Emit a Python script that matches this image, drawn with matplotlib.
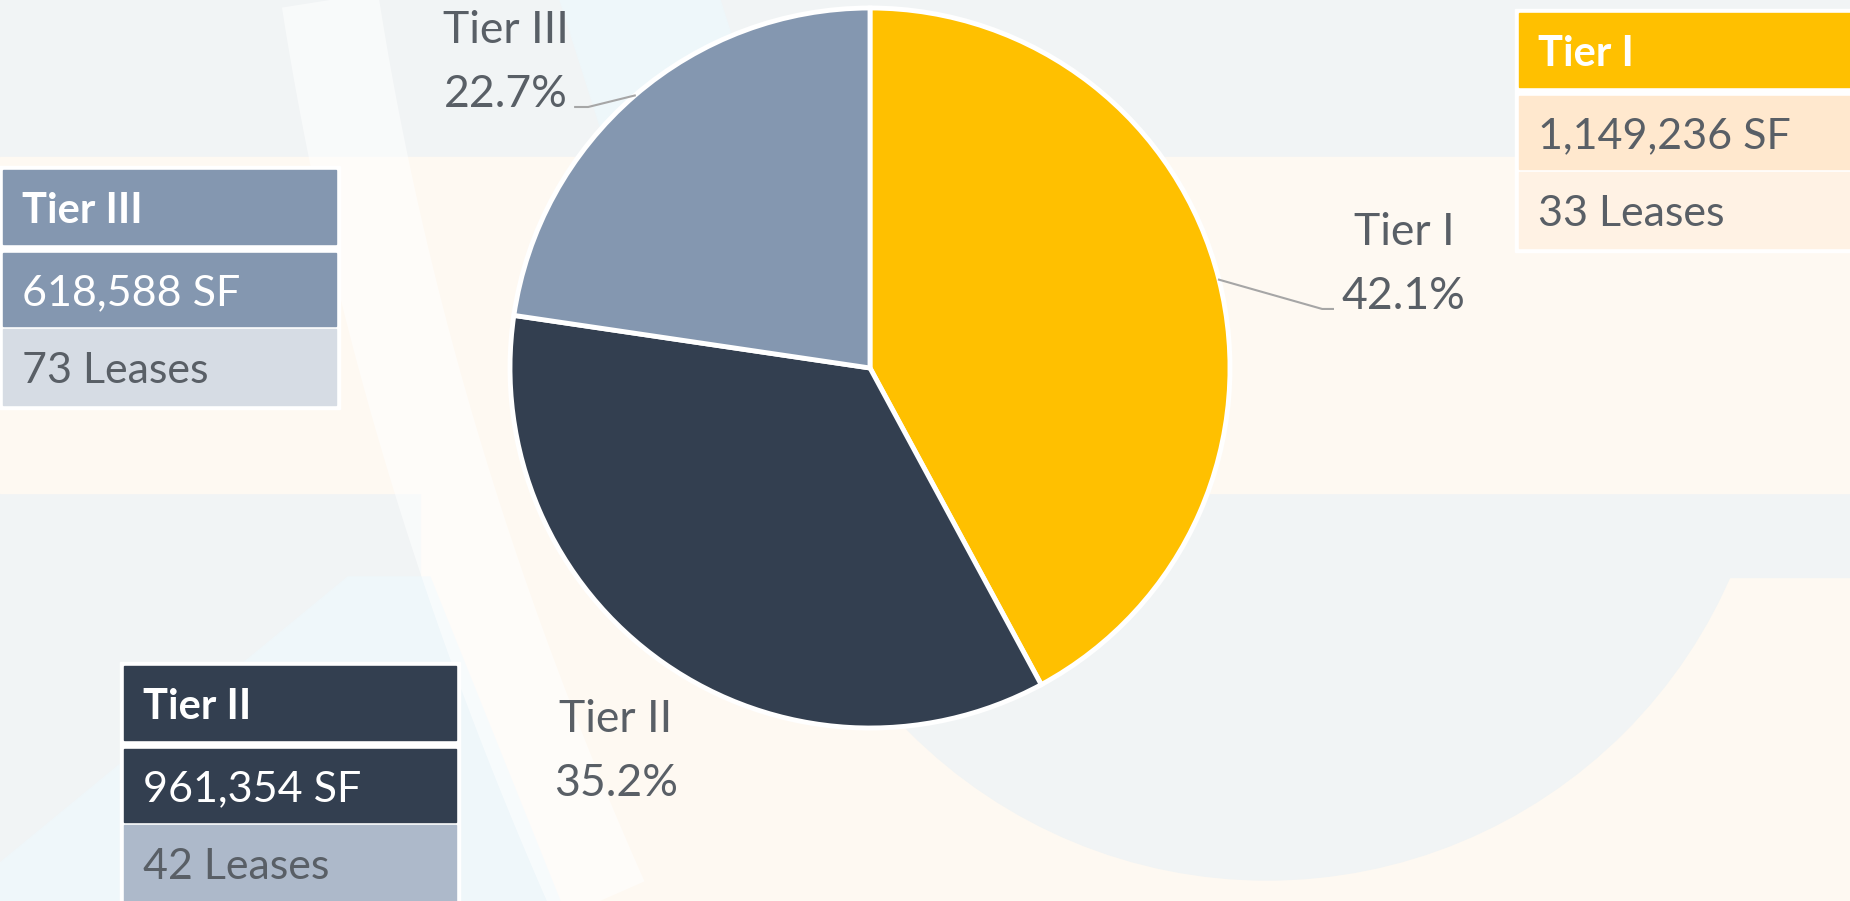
import numpy as np
import matplotlib.pyplot as plt
from matplotlib.patches import Rectangle, Circle, Polygon

plt.rcParams['font.family'] = ['Lato', 'DejaVu Sans']

# data
tiers = ["Tier I", "Tier II", "Tier III"]
square_feet = [1149236, 961354, 618588]
leases = [33, 42, 73]
pie_colors = ["#FFC000", "#333F50", "#8497B0"]

# summary box colours: header, SF row, leases row
box_fill = {
    "Tier I": ["#FFC000", "#FFE8CE", "#FFF2E4"],
    "Tier II": ["#333F50", "#333F50", "#ADB9CA"],
    "Tier III": ["#8497B0", "#8497B0", "#D6DCE4"],
}
box_text = {
    "Tier I": ["white", "#595F66", "#595F66"],
    "Tier II": ["white", "white", "#595F66"],
    "Tier III": ["white", "white", "#595F66"],
}
# box top-left corner and width, in pixels
box_place = {"Tier I": (1519, 13, 345), "Tier II": (124, 666, 332), "Tier III": (3, 170, 333)}

# label anchors (percent line baseline, pie radius units) and leader elbows
label_xy = {"Tier I": (1.483, 0.164), "Tier II": (-0.706, -1.189), "Tier III": (-1.011, 0.725)}
leader_elbow = {"Tier I": [(1.256, 0.164), (1.286, 0.164)],
                "Tier III": [(-0.783, 0.725), (-0.819, 0.725)]}

GRAY = "#595F66"
W, H = 1850, 901

fig = plt.figure(figsize=(18.5, 9.01), dpi=100)

# ---- background decoration (pixel coords) ----
bg = fig.add_axes([0, 0, 1, 1])
bg.set_xlim(0, W)
bg.set_ylim(H, 0)
bg.axis("off")
bg.add_patch(Rectangle((0, 0), W, H, color="#FEF9F2", zorder=0))
bg.add_patch(Rectangle((0, 0), W, 157, color="#F1F4F5", zorder=1))
bg.add_patch(Polygon([(560, 0), (720, 0), (770, 157), (610, 157)], color="#EEF7FA", zorder=1))
bg.add_patch(Rectangle((0, 493), 420, H - 493, color="#F1F4F5", zorder=1))
bg.add_patch(Polygon([(348, 577), (430, 577), (560, 901), (0, 901), (0, 863)], color="#EFF7FA", zorder=1))
bg.add_patch(Rectangle((1208, 493), W - 1208, 84, color="#F1F4F5", zorder=1))
bg.add_patch(Circle((1267, 375), 505, color="#F1F4F5", zorder=1))
bg.add_patch(Rectangle((0, 157), W, 336, color="#FEF9F2", zorder=2))
t = np.linspace(0, 1, 60)
arc_x = (1 - t) ** 2 * 330 + 2 * (1 - t) * t * 400 + t ** 2 * 600
arc_y = t * H
bg.plot(arc_x, arc_y, color="white", lw=70, alpha=0.55, zorder=3, solid_capstyle="butt")

# ---- summary boxes ----
rows = [(0, 74), (83, 73), (159, 76)]
for tier, sf, n in zip(tiers, square_feet, leases):
    x0, y0, w = box_place[tier]
    bg.add_patch(Rectangle((x0 - 4, y0 - 4), w + 8, 243, color="white", zorder=4))
    texts = [tier, f"{sf:,} SF", f"{n} Leases"]
    for k, (dy, h) in enumerate(rows):
        bg.add_patch(Rectangle((x0, y0 + dy), w, h, color=box_fill[tier][k], zorder=5))
        bg.text(x0 + 19, y0 + dy + h / 2 + 16, texts[k], color=box_text[tier][k],
                fontsize=30 if k == 0 else 31, fontweight="bold" if k == 0 else "normal",
                va="baseline", ha="left", zorder=6)

# ---- pie ----
cx, cy, r = 870, 368, 360
ax = fig.add_axes([(cx - r) / W, (H - cy - r) / H, 2 * r / W, 2 * r / H])
ax.set_zorder(5)
ax.patch.set_alpha(0)
wedges, _ = ax.pie(square_feet, colors=pie_colors, startangle=90, counterclock=False,
                   radius=1, wedgeprops=dict(edgecolor="white", linewidth=3.5))
ax.set_xlim(-1, 1)
ax.set_ylim(-1, 1)
ax.axis("off")

total = sum(square_feet)
for tier, sf, wdg in zip(tiers, square_feet, wedges):
    lx, ly = label_xy[tier]
    ax.text(lx, ly + 0.178, tier, color=GRAY, fontsize=32, ha="center", va="baseline", clip_on=False)
    ax.text(lx, ly, f"{sf / total * 100:.1f}%", color=GRAY, fontsize=32, ha="center",
            va="baseline", clip_on=False)
    if tier in leader_elbow:
        mid = np.deg2rad((wdg.theta1 + wdg.theta2) / 2)
        pts = [(np.cos(mid), np.sin(mid))] + leader_elbow[tier]
        ax.plot([p[0] for p in pts], [p[1] for p in pts], color="#A6A6A6", lw=1.5, clip_on=False)

fig.savefig("out.png", dpi=100)
